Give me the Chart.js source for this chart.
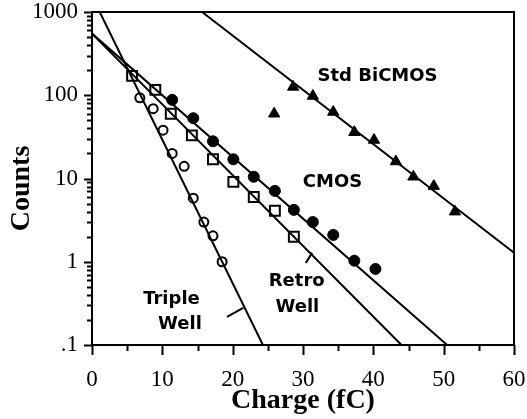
<!DOCTYPE html>
<html>
<head>
<meta charset="utf-8">
<script src="https://cdn.jsdelivr.net/npm/chart.js@4/dist/chart.umd.min.js"></script>
<style>
  html, body { margin: 0; padding: 0; background: #fff; }
  #wrap { width: 527px; height: 419px; }
</style>
</head>
<body>
<div id="wrap"><canvas id="chart" width="527" height="419"></canvas></div>
<script>
// =========================
// DATA
// =========================
const tripleX = [6.8, 8.7, 10.1, 11.4, 13.1, 14.4, 15.9, 17.2, 18.5];
const tripleY = [93, 69, 38, 20, 14, 5.8, 3.0, 2.05, 1.0];

const retroX = [5.7, 9.0, 11.2, 14.2, 17.2, 20.1, 23.0, 26.0, 28.7];
const retroY = [171, 116, 60, 33, 17, 9.1, 6.0, 4.1, 2.0];

const cmosX = [11.4, 14.4, 17.2, 20.1, 23.0, 26.0, 28.7, 31.4, 34.3, 37.3, 40.3];
const cmosY = [88, 53, 28, 17, 10.5, 7.1, 4.2, 3.0, 2.1, 1.03, 0.82];

const bicmosX = [25.9, 28.6, 31.4, 34.3, 37.3, 40.1, 43.2, 45.7, 48.6, 51.6];
const bicmosY = [60, 126, 98, 63, 36, 29, 16, 10.5, 8.1, 4.0];

// fitted lines (end points)
const tripleFitX = [1.1, 24.3];
const tripleFitY = [1000, 0.1];
const retroFitX = [0, 44.0];
const retroFitY = [550, 0.1];
const cmosFitX = [0, 50.5];
const cmosFitY = [550, 0.1];
const bicmosFitX = [15.65, 60];
const bicmosFitY = [1000, 1.28];

// leader lines for the well labels
const retroLeadX = [30.4, 31.3];
const retroLeadY = [0.97, 1.28];
const tripleLeadX = [19.2, 21.5];
const tripleLeadY = [0.218, 0.28];

// tick labels
const yTickValues = [0.1, 1, 10, 100, 1000];
const yTickLabels = ['.1', '1', '10', '100', '1000'];
const xTickValues = [0, 10, 20, 30, 40, 50, 60];

// in-plot labels
const noteText = ['Std BiCMOS', 'CMOS', 'Retro', 'Well', 'Triple', 'Well'];
const noteX = [40.6, 34.2, 29.1, 29.2, 11.3, 12.5];
const noteY = [168, 8.9, 0.58, 0.284, 0.349, 0.175];

const yTitle = 'Counts';

function pts(xs, ys) {
    return xs.map((x, i) => ({ x: x, y: ys[i] }));
}

function fitLine(xs, ys) {
    return {
        type: 'line', data: pts(xs, ys), borderColor: '#000', borderWidth: 2,
        pointRadius: 0, fill: false, tension: 0, order: 2
    };
}

// no extra room for overhanging tick labels, the layout padding does it
function noPad(s) {
    s.paddingLeft = 0;
    s.paddingRight = 0;
    s.paddingTop = 0;
    s.paddingBottom = 0;
}

// =========================
// FRAME, TICKS, NOTES
// =========================
const decor = {
    id: 'decor',
    afterDraw(chart) {
        const ctx = chart.ctx;
        const a = chart.chartArea;
        const xs = chart.scales.x;
        const ys = chart.scales.y;
        ctx.save();
        ctx.strokeStyle = '#000';
        ctx.lineWidth = 2;
        ctx.strokeRect(a.left, a.top, a.right - a.left, a.bottom - a.top);

        ctx.beginPath();
        // y ticks: decades long, 2..9 short
        for (let d = 0.1; d < 1000; d *= 10) {
            for (let k = 1; k < 10; k++) {
                const py = Math.round(ys.getPixelForValue(k * d)) + 0.5;
                const len = k === 1 ? 8 : 5;
                ctx.moveTo(a.left - len, py);
                ctx.lineTo(a.left, py);
            }
        }
        const pTop = Math.round(ys.getPixelForValue(1000)) + 0.5;
        ctx.moveTo(a.left - 8, pTop);
        ctx.lineTo(a.left, pTop);

        // x ticks: every 10 long, every 5 short
        for (let v = 0; v <= 60; v += 5) {
            const px = Math.round(xs.getPixelForValue(v)) + 0.5;
            const len = v % 10 === 0 ? 10 : 6;
            ctx.moveTo(px, a.bottom);
            ctx.lineTo(px, a.bottom + len);
        }
        ctx.stroke();

        ctx.fillStyle = '#000';
        ctx.font = 'bold 18px "DejaVu Sans"';
        ctx.textAlign = 'center';
        ctx.textBaseline = 'middle';
        noteText.forEach((t, i) => {
            ctx.fillText(t, xs.getPixelForValue(noteX[i]), ys.getPixelForValue(noteY[i]));
        });

        // y axis title, sits a bit below the middle of the axis
        ctx.translate(22, a.top + (a.bottom - a.top) * 0.53);
        ctx.rotate(-Math.PI / 2);
        ctx.font = 'bold 28px "Liberation Serif"';
        ctx.fillText(yTitle, 0, 0);
        ctx.restore();
    }
};

const ctx = document.getElementById('chart').getContext('2d');
window.countsChart = new Chart(ctx, {
    type: 'scatter',
    data: {
        datasets: [
            fitLine(tripleFitX, tripleFitY),
            fitLine(retroFitX, retroFitY),
            fitLine(cmosFitX, cmosFitY),
            fitLine(bicmosFitX, bicmosFitY),
            fitLine(retroLeadX, retroLeadY),
            fitLine(tripleLeadX, tripleLeadY),
            {
                label: 'Triple Well', data: pts(tripleX, tripleY),
                pointStyle: 'circle', pointRadius: 4.5, borderWidth: 2,
                borderColor: '#000', backgroundColor: 'rgba(0,0,0,0)', order: 1
            },
            {
                label: 'Retro Well', data: pts(retroX, retroY),
                pointStyle: 'rect', pointRadius: 7, borderWidth: 2,
                borderColor: '#000', backgroundColor: 'rgba(0,0,0,0)', order: 1
            },
            {
                label: 'CMOS', data: pts(cmosX, cmosY),
                pointStyle: 'circle', pointRadius: 5.5, borderWidth: 1,
                borderColor: '#000', backgroundColor: '#000', order: 1
            },
            {
                label: 'Std BiCMOS', data: pts(bicmosX, bicmosY),
                pointStyle: 'triangle', pointRadius: 6.5, borderWidth: 1,
                borderColor: '#000', backgroundColor: '#000', order: 1
            }
        ]
    },
    options: {
        responsive: false,
        animation: false,
        layout: { padding: { top: 12, right: 13, left: 0, bottom: 0 } },
        plugins: {
            legend: { display: false },
            tooltip: { enabled: false }
        },
        scales: {
            x: {
                type: 'linear',
                min: 0,
                max: 60,
                afterFit: s => { s.height = 74; noPad(s); },
                afterBuildTicks: s => { s.ticks = xTickValues.map(v => ({ value: v })); },
                grid: { display: false, drawTicks: false },
                border: { display: false },
                ticks: {
                    color: '#000',
                    padding: 21,
                    maxRotation: 0,
                    font: { family: '"Liberation Serif"', size: 23 }
                },
                title: {
                    display: true,
                    text: 'Charge (fC)',
                    color: '#000',
                    padding: { top: 0, bottom: 1 },
                    font: { family: '"Liberation Serif"', size: 28, weight: 'bold' }
                }
            },
            y: {
                type: 'logarithmic',
                min: 0.1,
                max: 1000,
                afterFit: s => { s.width = 92; noPad(s); },
                afterBuildTicks: s => { s.ticks = yTickValues.map(v => ({ value: v })); },
                grid: { display: false, drawTicks: false },
                border: { display: false },
                ticks: {
                    color: '#000',
                    padding: 14,
                    font: { family: '"Liberation Serif"', size: 23 },
                    callback: (v) => {
                        const i = yTickValues.findIndex(t => Math.abs(t - v) < 1e-9 * Math.max(1, t));
                        return i >= 0 ? yTickLabels[i] : '';
                    }
                }
            }
        }
    },
    plugins: [decor]
});
</script>
</body>
</html>
